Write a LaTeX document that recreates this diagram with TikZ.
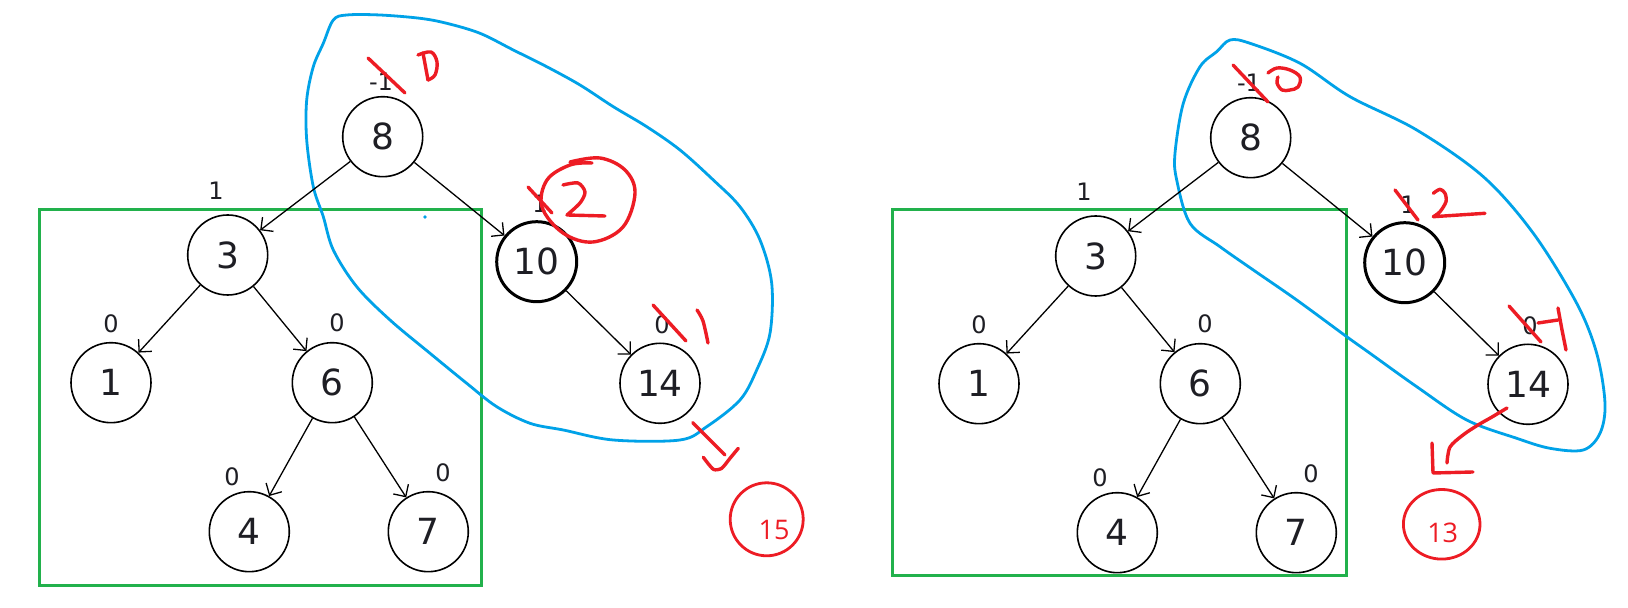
\documentclass[tikz,border=0pt]{standalone}
\usepackage{fontspec}
\setmainfont{DejaVu Sans}
\newfontfamily\redfont{Open Sans}
\usetikzlibrary{arrows.meta,shapes.geometric}
\definecolor{pgreen}{RGB}{34,177,76}
\definecolor{pblue}{RGB}{0,162,232}
\definecolor{pred}{RGB}{237,28,36}
\definecolor{inkc}{RGB}{30,30,36}
\begin{document}
\begin{tikzpicture}[x=0.5pt,y=-0.5pt,
  treenode/.style={circle,draw=black,line width=0.8pt,minimum size=40pt,inner sep=0pt,
    font=\fontsize{18}{18}\selectfont,text=inkc},
  thicknode/.style={treenode,line width=1.5pt},
  bal/.style={font=\fontsize{12}{12}\selectfont,text=inkc,inner sep=0pt},
  edge/.style={-{Straight Barb[length=4.5pt,width=9pt]},line width=0.65pt,black},
  box/.style={draw=pgreen,line width=1.5pt},
  bluestroke/.style={draw=pblue,line width=1.4pt,line join=round},
  redstroke/.style={draw=pred,line width=1.7pt,line cap=round,line join=round},
  redtext/.style={text=pred,font=\redfont\fontsize{13.5}{13.5}\selectfont,inner sep=0pt},
]
\useasboundingbox (0,0) rectangle (1628,608);
\fill[white] (0,0) rectangle (1628,608);

% green boxes
\draw[box] (39.3,210) rectangle (481.7,586);
\draw[box] (892.3,210) rectangle (1346.7,575.7);

% blue loops
\draw[bluestroke] plot[smooth cycle,tension=0.55] coordinates {
 (306.7,100) (306.7,140) (313.3,186.7) (323.3,216.7) (333.3,250) (356.7,286.7)
 (390,320) (430,353.3) (466.7,383.3) (496.7,406.7) (530,423.3) (563.3,430)
 (613.3,440) (680,440) (706.7,426.7) (740,400) (756.7,370) (770,333.3)
 (771.7,283.3) (760,240) (740,206.7) (713.3,180) (680,150) (646.7,126.7)
 (613.3,106.7) (580,85) (546.7,66.7) (513.3,50) (480,33.3) (446.7,23.3)
 (420,18.3) (380,15) (346.7,15) (333.3,20) (323.3,43.3) (313.3,66.7)};
\fill[pblue] (425,217) circle (0.9pt);
\draw[bluestroke] plot[smooth cycle,tension=0.55] coordinates {
 (1230,40) (1250,43.3) (1300,63.3) (1350,96.7) (1416.7,130) (1483.3,176.7)
 (1533.3,233.3) (1576.7,303.3) (1596.7,353.3) (1605,403.3) (1600,433.3)
 (1583.3,450) (1550,448.3) (1516.7,438.3) (1466.7,420) (1416.7,386.7)
 (1370,353.3) (1346.7,336.7) (1296.7,300) (1253.3,270) (1220,246.7) (1190,223.3)
 (1176.7,180) (1175,153.3) (1183.3,103.3) (1200,66.7) (1216.7,51.7)};

% trees
\foreach \p/\dx/\dy in {L/0/0,R/868/1}{
\begin{scope}[shift={(\dx,\dy)}]
  \node[treenode]  (\p8)  at (382.7,136.7) {8};
  \node[treenode]  (\p3)  at (227.7,255)   {3};
  \node[thicknode] (\p10) at (536.7,261.7) {10};
  \node[treenode]  (\p1)  at (111,382.7)   {1};
  \node[treenode]  (\p6)  at (332.3,382.7) {6};
  \node[treenode]  (\p14) at (660,383.3)   {14};
  \node[treenode]  (\p4)  at (249.3,531.7) {4};
  \node[treenode]  (\p7)  at (428.3,531.7) {7};
  \node[bal] (\p b8)  at (381,82)   {-1};
  \node[bal] (\p b3)  at (216,191)  {1};
  \node[bal] (\p b1)  at (111,324)  {0};
  \node[bal] (\p b6)  at (337,323)  {0};
  \node[bal] (\p b4)  at (232,477)  {0};
  \node[bal] (\p b7)  at (443,473)  {0};
  \node[bal] (\p b10) at (540,204)  {1};
  \node[bal] (\p b14) at (662,325)  {0};
  \draw[edge] (\p8) -- (\p3);
  \draw[edge] (\p8) -- (\p10);
  \draw[edge] (\p3) -- (\p1);
  \draw[edge] (\p3) -- (\p6);
  \draw[edge] (\p6) -- (\p4);
  \draw[edge] (\p6) -- (\p7);
  \draw[edge] (\p10) -- (\p14);
\end{scope}}

% red annotations, left
\draw[redstroke] (368,58) -- (405,93);
\draw[redstroke] (423,53) -- (428,80);
\draw[redstroke] plot[smooth,tension=0.6] coordinates {(418,55) (431,52) (437,62) (435,75) (428,80)};
\draw[redstroke] (528,187) -- (552,213);
\draw[redstroke] plot[smooth,tension=0.5] coordinates {(563,185) (578,183) (585,192) (580,203) (567,215)} -- (605,216);
\draw[redstroke] plot[smooth,tension=0.6] coordinates {(570,162) (600,158) (625,170) (635,193) (623,227) (593,242) (563,233) (542,207) (547,180) (570,165) (592,163)};
\draw[redstroke] (653,305) -- (686,341);
\draw[redstroke] plot[smooth,tension=0.5] coordinates {(697,310) (703,321) (708,343)};
\draw[redstroke] (692.7,422.7) -- (725,455);
\draw[redstroke] plot[smooth,tension=0.4] coordinates {(703.3,457.3) (713.3,469.3) (721.7,468.3) (730,458.3) (738.3,448.3)};
\node[circle,draw=pred,line width=1.4pt,minimum size=36.5pt,inner sep=0pt] (c15) at (766.7,519.3) {};
\node[redtext] (t15) at (774,530) {15};

% red annotations, right
\draw[redstroke] (1233,65) -- (1268,102);
\draw[redstroke] plot[smooth,tension=0.6] coordinates {(1268,73) (1277,68) (1290,70) (1300,77) (1298,87) (1290,90) (1282,90) (1277,83) (1278,77)};
\draw[redstroke] (1395,190) -- (1418,220);
\draw[redstroke] plot[smooth,tension=0.5] coordinates {(1433.3,193.3) (1440,189.3) (1445,193.3) (1446,201.7) (1440,211.7) (1433.3,216.7)} -- (1485,213.3);
\draw[redstroke] (1509,306) -- (1541,342);
\draw[redstroke] (1538,323) -- (1558,320);
\draw[redstroke] (1558,308) -- (1562,330) -- (1566,350);
\draw[redstroke] plot[smooth,tension=0.5] coordinates {(1507,408) (1492,417) (1478,425) (1463,435) (1450,447) (1447,463)};
\draw[redstroke] (1432,443) -- (1433,473) -- (1473,472);
\node[ellipse,draw=pred,line width=1.4pt,minimum width=38.3pt,minimum height=34.8pt,inner sep=0pt] (c13) at (1441.7,524.3) {};
\node[redtext] (t13) at (1442.7,533.3) {13};
\end{tikzpicture}
\end{document}
